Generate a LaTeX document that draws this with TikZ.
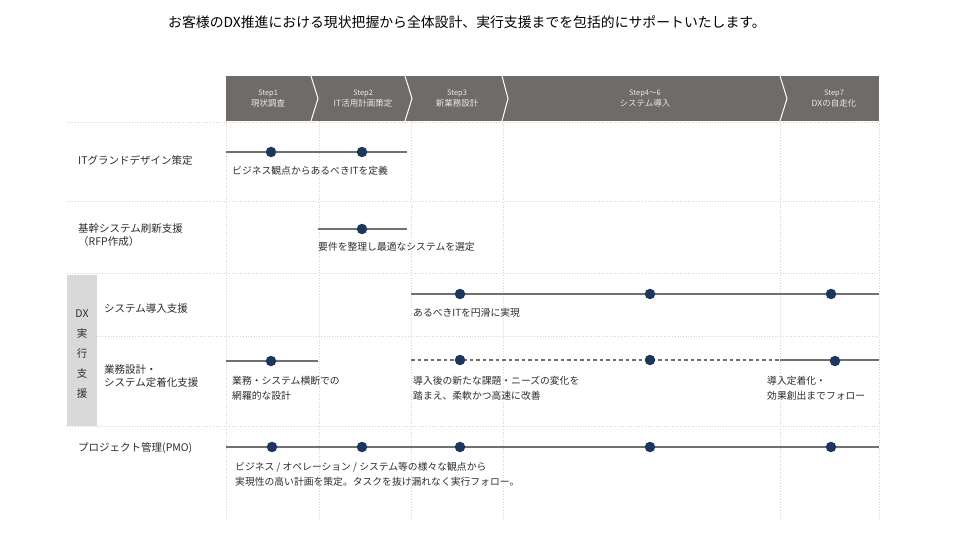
\documentclass[tikz,border=0pt]{standalone}
\usepackage{fontspec}
\setmainfont{Noto Sans CJK JP}
\definecolor{hdrc}{RGB}{111,107,105}
\definecolor{hdrtext}{RGB}{232,230,228}
\definecolor{linec}{RGB}{112,112,112}
\definecolor{dotc}{RGB}{28,54,96}
\definecolor{gridc}{RGB}{212,212,212}
\definecolor{txt}{RGB}{45,45,45}
\definecolor{boxc}{RGB}{217,217,217}
\tikzset{
 gridline/.style={draw=gridc, dotted, line width=0.7pt},
 tl/.style={draw=linec, line width=2pt},
 tldash/.style={draw=linec, line width=1.4pt, dash pattern=on 3.5pt off 3pt},
 tdot/.style={circle, fill=dotc, inner sep=0pt, minimum size=10.5pt},
 hdr/.style={text=hdrtext, align=center, inner sep=0pt, font=\fontsize{8.5}{11.5}\selectfont},
 lbl/.style={anchor=west, inner sep=0pt, text=txt, font=\fontsize{10.5}{13}\selectfont, align=left},
 desc/.style={anchor=west, inner sep=0pt, text=txt, font=\fontsize{9.8}{15}\selectfont, align=left},
 sep/.style={draw=white, line width=1pt},
}
\begin{document}
\begin{tikzpicture}[x=1pt,y=-1pt]
\useasboundingbox[fill=white] (0,0) rectangle (960,540);

% title
\node[inner sep=0pt, text=black, font=\fontsize{13.85}{16}\selectfont] (title) at (467,22) {お客様のDX推進における現状把握から全体設計、実行支援までを包括的にサポートいたします。};

% grid lines
\foreach \gx in {226,319,411,503,780,879} \draw[gridline] (\gx,121) -- (\gx,520);
\draw[gridline] (67,122) -- (879,122);
\draw[gridline] (67,201) -- (879,201);
\draw[gridline] (67,273) -- (879,273);
\draw[gridline] (97,336) -- (879,336);
\draw[gridline] (67,426) -- (879,426);

% DX box
\fill[boxc] (67,275) rectangle (97,426);
\node[inner sep=0pt, text=txt, align=center, font=\fontsize{10.5}{20}\selectfont] (dxbox) at (82,354) {DX\\実\\行\\支\\援};

% header
\fill[hdrc] (226,76) rectangle (879,121);
\draw[sep] (311,76) -- (318,98.5) -- (311,121);
\draw[sep] (405,76) -- (412,98.5) -- (405,121);
\draw[sep] (502,76) -- (508,98.5) -- (502,121);
\draw[sep] (780,76) -- (787,98.5) -- (780,121);
\node[hdr] (h1) at (268,98.5) {{\fontsize{7.5}{11.5}\selectfont Step1}\\現状調査};
\node[hdr] (h2) at (363,98.5) {{\fontsize{7.5}{11.5}\selectfont Step2}\\IT活用計画策定};
\node[hdr] (h3) at (457,98.5) {{\fontsize{7.5}{11.5}\selectfont Step3}\\新業務設計};
\node[hdr] (h4) at (645,98.5) {{\fontsize{7.5}{11.5}\selectfont Step4〜6}\\システム導入};
\node[hdr] (h5) at (834,98.5) {{\fontsize{7.5}{11.5}\selectfont Step7}\\DXの自走化};

% row labels
\node[lbl] (r1) at (78,160) {ITグランドデザイン策定};
\node[lbl] (r2) at (78,235.5) {基幹システム刷新支援\\（RFP作成）};
\node[lbl] (r3) at (104,309) {システム導入支援};
\node[lbl] (r4) at (104,376.5) {業務設計・\\システム定着化支援};
\node[lbl] (r5) at (78,448) {プロジェクト管理(PMO)};

% row 1
\coordinate (a1s) at (226,152); \coordinate (a1e) at (407,152);
\draw[tl] (a1s) -- (a1e);
\node[tdot] (d11) at (271,152) {};
\node[tdot] (d12) at (362,152) {};
\node[desc] (t1) at (232,171) {ビジネス観点からあるべきITを定義};

% row 2
\coordinate (a2s) at (318,229); \coordinate (a2e) at (407,229);
\draw[tl] (a2s) -- (a2e);
\node[tdot] (d21) at (362,229) {};
\node[desc] (t2) at (318,247) {要件を整理し最適なシステムを選定};

% row 3
\coordinate (a3s) at (411,294); \coordinate (a3e) at (879,294);
\draw[tl] (a3s) -- (a3e);
\node[tdot] (d31) at (460,294) {};
\node[tdot] (d32) at (650,294) {};
\node[tdot] (d33) at (831,294) {};
\node[desc] (t3) at (413,313) {あるべきITを円滑に実現};

% row 4
\coordinate (a4s) at (226,361); \coordinate (a4e) at (318,361);
\draw[tl] (a4s) -- (a4e);
\coordinate (b4s) at (411,360); \coordinate (b4e) at (780,360);
\draw[tldash] (b4s) -- (b4e);
\coordinate (c4s) at (780,360); \coordinate (c4e) at (879,360);
\draw[tl] (c4s) -- (c4e);
\node[tdot] (d41) at (271,361) {};
\node[tdot] (d42) at (460,360) {};
\node[tdot] (d43) at (650,360) {};
\node[tdot] (d44) at (835,361) {};
\node[desc] (t41) at (232,388.5) {業務・システム横断での\\網羅的な設計};
\node[desc] (t42) at (413,388.5) {導入後の新たな課題・ニーズの変化を\\踏まえ、柔軟かつ高速に改善};
\node[desc] (t43) at (767,388.5) {導入定着化・\\効果創出までフォロー};

% row 5
\coordinate (a5s) at (226,447); \coordinate (a5e) at (879,447);
\draw[tl] (a5s) -- (a5e);
\node[tdot] (d51) at (272,447) {};
\node[tdot] (d52) at (362,447) {};
\node[tdot] (d53) at (460,447) {};
\node[tdot] (d54) at (650,447) {};
\node[tdot] (d55) at (831,447) {};
\node[desc] (t5) at (235,474.5) {ビジネス / オペレーション / システム等の様々な観点から\\実現性の高い計画を策定。タスクを抜け漏れなく実行フォロー。};
\end{tikzpicture}
\end{document}
